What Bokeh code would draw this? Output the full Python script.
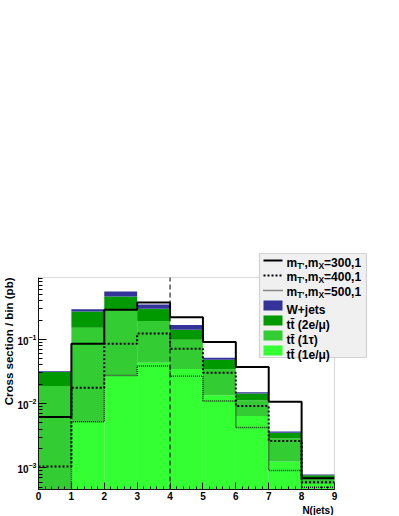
import numpy as np
from bokeh.plotting import figure
from bokeh.models import (Label, BoxAnnotation, Arrow, SingleIntervalTicker,
                          LogTicker, Range1d, Title)
from bokeh.embed import file_html
from bokeh.resources import INLINE

# ---------------- data ----------------
bin_edges = [0, 1, 2, 3, 4, 5, 6, 7, 8, 9]
x_tick_labels = ["0", "1", "2", "3", "4", "5", "6", "7", "8", "9"]
y_axis_limits = [4.6e-4, 0.92]

# stacked backgrounds, bottom to top
tt_1emu = [0.0003, 0.0052, 0.0275, 0.0431, 0.0347, 0.01346, 0.0064, 0.00124, 0.00055]
tt_1tau = [0.0185, 0.1468, 0.2625, 0.1499, 0.0642, 0.0210, 0.00485, 0.00162, 0.000115]
tt_2emu = [0.0122, 0.120, 0.177, 0.107, 0.0427, 0.0138, 0.00305, 0.00064, 0.000095]
wjets = [0.0008, 0.024, 0.091, 0.050, 0.0264, 0.0036, 0.0007, 0.00017, 0.000016]

# signal hypotheses
sig_300 = [0.0062, 0.0858, 0.290, 0.376, 0.222, 0.0908, 0.0373, 0.01074, 0.00069]
sig_400 = [0.00105, 0.0177, 0.0858, 0.123, 0.0717, 0.0303, 0.00918, 0.00262, 0.000597]
sig_500 = [0.0003, 0.00523, 0.0275, 0.0384, 0.0266, 0.0110, 0.00424, 0.00091, 0.00050]

cut_position = 4

bkg_names = ["tt\u0304 (1e/\u03bc)", "tt\u0304 (1\u03c4)", "tt\u0304 (2e/\u03bc)", "W+jets"]
bkg_colors = ["#33ff33", "#33cc33", "#009900", "#333399"]
sig_masses = ["300,1", "400,1", "500,1"]
x_title = "N(jets)"
y_title = "Cross section / bin (pb)"

# ---------------- layout ----------------
FONT = "Liberation Sans"
X0, X1 = bin_edges[0], bin_edges[-1]
Y0, Y1 = y_axis_limits
DATA_W, DATA_H = 296, 212          # size of the histogram frame, px
FRAME_W, FRAME_H = 332, 239         # bokeh frame also holds the legend (top/right)
x_end = X0 + (X1 - X0) * FRAME_W / DATA_W
y_end = 10 ** (np.log10(Y0) + np.log10(Y1 / Y0) * FRAME_H / DATA_H)

p = figure(frame_width=FRAME_W, frame_height=FRAME_H,
           min_border_left=37, min_border_right=8, min_border_top=250, min_border_bottom=26,
           y_axis_type="log", x_range=Range1d(X0, x_end), y_range=Range1d(Y0, y_end),
           output_backend="svg", toolbar_location=None)
p.background_fill_color = "white"
p.border_fill_color = "white"
p.outline_line_color = None
p.grid.visible = False

left = np.array(bin_edges[:-1], dtype=float)
right = np.array(bin_edges[1:], dtype=float)
base = 1e-5
stack = [tt_1emu, tt_1tau, tt_2emu, wjets]
cum = np.full(len(left), base)
for vals, col in zip(stack, bkg_colors):
    top = cum + np.array(vals)
    p.quad(left=left, right=right, bottom=cum, top=top, fill_color=col, line_color=None)
    cum = top

sig_styles = [("solid", 2, "black"), ("2 2", 2, "black"), ("1 1", 1.5, "#222222")]
for vals, (dash, lw, lc) in zip([sig_300, sig_400, sig_500], sig_styles):
    p.step(x=bin_edges, y=list(vals) + [vals[-1]], mode="after",
           line_color=lc, line_width=lw, line_dash=dash)

# vertical cut line
p.segment(x0=[cut_position], x1=[cut_position], y0=[Y0], y1=[Y1],
          line_color="black", line_width=1, line_dash="5 3")

# histogram frame (gray top / right border)
p.add_layout(BoxAnnotation(left=X0, right=X1, bottom=Y0, top=Y1, fill_alpha=0,
                           line_color="#888888", line_width=1))

# axes
p.xaxis.ticker = SingleIntervalTicker(interval=1, num_minor_ticks=5)
p.xaxis.major_label_overrides = {i: s for i, s in enumerate(x_tick_labels)}
p.xaxis.bounds = (X0, X1)
p.yaxis.ticker = LogTicker(num_minor_ticks=10)
p.yaxis.bounds = (Y0, Y1)
for ax in (p.xaxis[0], p.yaxis[0]):
    ax.major_tick_out = 0
    ax.minor_tick_out = 0
    ax.axis_line_color = "black"
    ax.major_tick_line_color = "black"
    ax.minor_tick_line_color = "black"
    ax.major_label_text_font = FONT
    ax.major_label_text_font_style = "bold"
    ax.major_label_text_font_size = "10px"
    ax.major_label_text_color = "black"
p.xaxis.major_tick_in = 7
p.xaxis.minor_tick_in = 3
p.yaxis.major_tick_in = 8
p.yaxis.minor_tick_in = 4
p.xaxis.major_label_standoff = 2
p.yaxis.major_label_standoff = 2

# axis titles, right/top aligned at the histogram frame ends (ROOT style)
p.add_layout(Title(text=x_title, align="right", offset=(FRAME_W - DATA_W) + 1,
                   text_font=FONT, text_font_style="bold", text_font_size="10px",
                   text_color="black", standoff=0), "below")
p.add_layout(Title(text=y_title, align="right", offset=(FRAME_H - DATA_H),
                   text_font=FONT, text_font_style="bold", text_font_size="11.5px",
                   text_color="black", standoff=0), "left")

# ---------------- legend (drawn by hand, canvas coordinates) ----------------
U = "canvas"
p.add_layout(BoxAnnotation(left=259, right=366, top=253, bottom=357,
                           left_units=U, right_units=U, top_units=U, bottom_units=U,
                           fill_color="#f0f0f0", fill_alpha=1.0,
                           line_color="#808080", line_width=1.2))

W = {'m': 889, 'T': 611, "'": 238, ',': 278, 'X': 667, '=': 584, ' ': 278}
for d in "0123456789":
    W[d] = 556

def tw(s, size):
    return sum(W.get(c, 556) for c in s) * size / 1000.0

MAIN, SUB = 12, 8.5
sym_l, sym_r = 263, 282
text_x = 286
sig_rows_center = [260, 275, 290]
sig_rows_base = [262.7, 276.7, 291.7]
for mass, cy, by, (dash, lw, lc) in zip(sig_masses, sig_rows_center, sig_rows_base, sig_styles):
    p.add_layout(Arrow(end=None, x_start=sym_l, x_end=sym_r, y_start=cy, y_end=cy,
                       start_units=U, end_units=U, line_color=lc, line_width=lw,
                       line_dash=dash))
    pieces = [("m", MAIN, 0), ("T'", SUB, 3), (",m", MAIN, 0), ("X", SUB, 3),
              ("=" + mass, MAIN, 0)]
    x = text_x
    for txt, size, dy in pieces:
        p.add_layout(Label(x=x, y=by + dy, x_units=U, y_units=U, text=txt,
                           text_font=FONT, text_font_style="bold",
                           text_font_size=f"{size}px", text_color="black",
                           text_align="left", text_baseline="alphabetic"))
        x += tw(txt, size)

bkg_rows_center = [350, 335, 320, 305]
bkg_rows_base = [354.5, 339.5, 324, 309]
for name, col, cy, by in zip(bkg_names, bkg_colors, bkg_rows_center, bkg_rows_base):
    p.add_layout(BoxAnnotation(left=sym_l, right=sym_r, top=cy - 5, bottom=cy + 5,
                               left_units=U, right_units=U, top_units=U, bottom_units=U,
                               fill_color=col, fill_alpha=1.0, line_color=None))
    p.add_layout(Label(x=text_x, y=by, x_units=U, y_units=U, text=name,
                       text_font=FONT, text_font_style="bold",
                       text_font_size=f"{MAIN}px", text_color="black",
                       text_align="left", text_baseline="alphabetic"))

open("out.html", "w").write(file_html(p, INLINE))
